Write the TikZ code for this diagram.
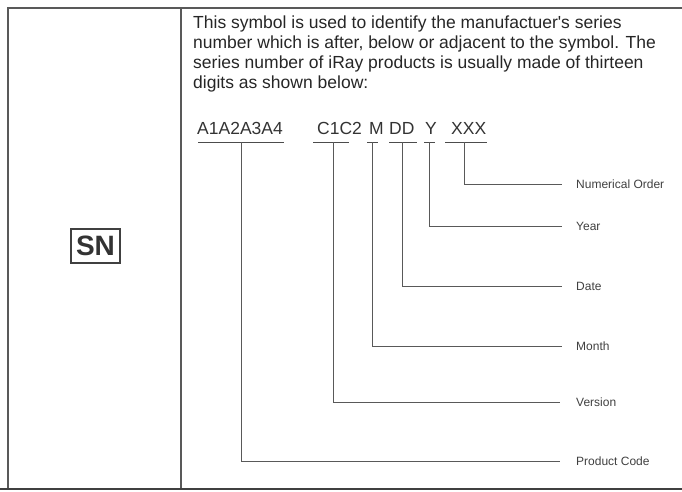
\documentclass[tikz,border=0pt]{standalone}
\usepackage{fontspec}
\setmainfont{Liberation Sans}
\begin{document}
\begin{tikzpicture}[x=1pt,y=-1pt,
  frame/.style={draw=black!65, line width=1.2pt},
  bottomrule/.style={draw=black!75, line width=2pt},
  lead/.style={draw=black!65, line width=1pt},
  uline/.style={draw=black!70, line width=1pt},
  desc/.style={anchor=north west, align=left, inner sep=0pt, font=\fontsize{17.5}{20}\selectfont, text=black!85},
  code/.style={anchor=base west, inner sep=0pt, font=\fontsize{17.5}{20}\selectfont, text=black!80},
  lbl/.style={anchor=west, inner sep=0pt, font=\fontsize{12}{13}\selectfont, text=black!75},
  symbox/.style={draw=black!75, line width=2pt, minimum width=49pt, minimum height=34pt, inner sep=0pt, font=\fontsize{28}{30}\bfseries\selectfont, text=black!80},
]
\useasboundingbox (0,0) rectangle (682,492);
% table frame
\draw[frame] (8,489) -- (8,8) -- (682,8);
\draw[frame] (181,8) -- (181,489);
\draw[bottomrule] (0,489) -- (682,489);
% symbol
\node[symbox] (sn) at (95.5,246) {SN};
% description
\node[desc] (txt) at (193,16) {This symbol is used to identify the manufactuer\textquotesingle s series\\number which is after, below or adjacent to the symbol. The\\series number of iRay products is usually made of thirteen\\digits as shown below:};
% code parts
\node[code] (a) at (197,135) {A1A2A3A4};
\node[code] (c) at (317,135) {C1C2};
\node[code] (m) at (369,135) {M};
\node[code] (d) at (389,135) {DD};
\node[code] (y) at (425,135) {Y};
\node[code] (x) at (451,135) {XXX};
% underlines
\coordinate (au) at (241,142); \draw[uline] (198,142) -- (284,142);
\coordinate (cu) at (333,142); \draw[uline] (313,142) -- (349,142);
\coordinate (mu) at (372,142); \draw[uline] (367,142) -- (378,142);
\coordinate (du) at (402,142); \draw[uline] (389,142) -- (417,142);
\coordinate (yu) at (429,142); \draw[uline] (424,142) -- (435,142);
\coordinate (xu) at (464,142); \draw[uline] (445,142) -- (487,142);
% labels
\node[lbl] (lx) at (576,184) {Numerical Order};
\node[lbl] (ly) at (576,226) {Year};
\node[lbl] (ld) at (576,286) {Date};
\node[lbl] (lm) at (576,346) {Month};
\node[lbl] (lc) at (576,402) {Version};
\node[lbl] (la) at (576,461) {Product Code};
% leaders
\draw[lead] (xu) |- ([xshift=-14pt]lx.west);
\draw[lead] (yu) |- ([xshift=-14pt]ly.west);
\draw[lead] (du) |- ([xshift=-14pt]ld.west);
\draw[lead] (mu) |- ([xshift=-14pt]lm.west);
\draw[lead] (cu) |- ([xshift=-16pt]lc.west);
\draw[lead] (au) |- ([xshift=-16pt]la.west);
\end{tikzpicture}
\end{document}
